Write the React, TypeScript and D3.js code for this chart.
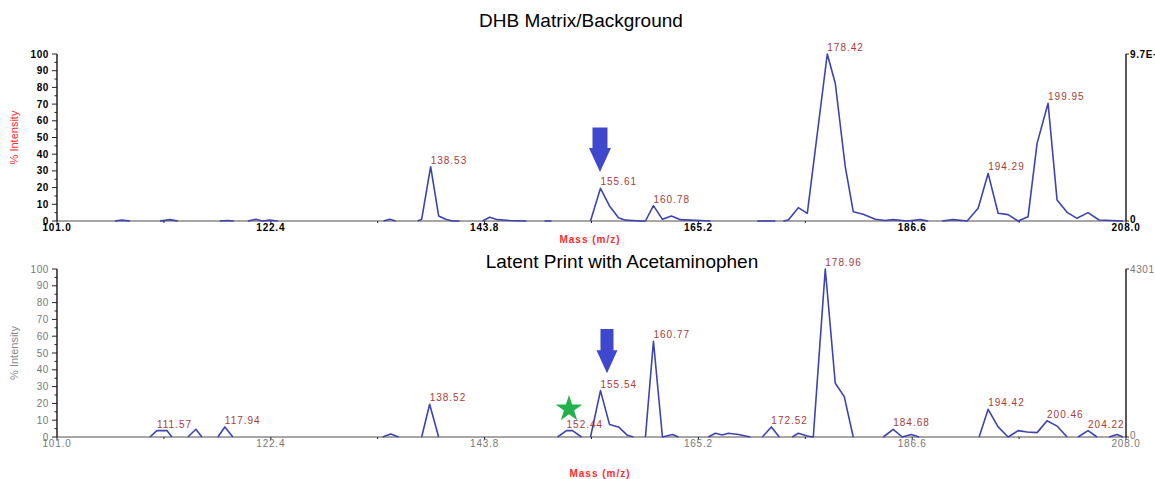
import React from "react";
import * as d3 from "d3";

// spectrum points are [m/z, % intensity]; null breaks the trace
type Pt = [number, number] | null;
interface Peak {
  label: string;
  mz: number;
  intensity: number;
}

const X_MIN = 101.0;
const X_MAX = 208.0;
const xTickValues = [101.0, 122.4, 143.8, 165.2, 186.6, 208.0];
const yTickValues = [0, 10, 20, 30, 40, 50, 60, 70, 80, 90, 100];

const dhbSpectrum: Pt[] = [
  [106.8, 0], [107.5, 0.5], [108.3, 0], null,
  [111.3, 0], [112.3, 0.8], [113.1, 0], null,
  [117.3, 0], [118.1, 0.3], [118.7, 0], null,
  [120.1, 0], [120.9, 1], [121.6, 0], [122.3, 0.5], [123.1, 0], null,
  [133.7, 0], [134.3, 1], [134.9, 0], null,
  [137.1, 0], [137.5, 1], [138.4, 32.5], [139.2, 3], [139.9, 1], [140.6, 0], [141.3, 0], null,
  [143.6, 0], [144.3, 2.2], [145.1, 0.8], [146.3, 0.3], [148.0, 0], null,
  [149.8, 0], [150.5, 0], null,
  [154.4, 0], [155.4, 19.6], [156.3, 9], [157.2, 2], [157.9, 0.5], [159.4, 0],
  [159.9, 0], [160.7, 9.2], [161.6, 1], [162.5, 3], [163.4, 0.8], [164.4, 0.5], [165.4, 0.3], [166.4, 0], null,
  [171.1, 0], [172.9, 0], null,
  [173.7, 0], [174.2, 0.6], [175.2, 8], [176.1, 4.6], [178.1, 100], [178.9, 82.5], [179.9, 32.5],
  [180.7, 5.6], [181.7, 4], [182.9, 1], [183.9, 0.3], [184.7, 0.8], [186.1, 0], [187.4, 0.8], [188.2, 0], null,
  [189.6, 0], [190.7, 0.8], [192.1, 0], [193.2, 7.6], [194.2, 28.5], [195.2, 4.6], [196.2, 3.8], [197.2, 0],
  [198.2, 2.6], [199.1, 46.5], [200.2, 70.5], [201.1, 12.6], [202.1, 5.2], [203.1, 1.6], [204.2, 5],
  [205.3, 0.6], [207.7, 0],
];

const dhbPeaks: Peak[] = [
  { label: "138.53", mz: 138.4, intensity: 32.5 },
  { label: "155.61", mz: 155.4, intensity: 19.6 },
  { label: "160.78", mz: 160.7, intensity: 9.2 },
  { label: "178.42", mz: 178.1, intensity: 100 },
  { label: "194.29", mz: 194.2, intensity: 28.5 },
  { label: "199.95", mz: 200.2, intensity: 70.5 },
];

const printSpectrum: Pt[] = [
  [110.3, 0], [111.0, 3.8], [112.0, 3.8], [112.5, 0], null,
  [114.1, 0], [114.9, 4.6], [115.5, 0], null,
  [117.1, 0], [117.8, 6], [118.6, 0], null,
  [133.6, 0], [134.4, 1.8], [135.2, 0], null,
  [137.5, 0], [138.3, 19.5], [139.2, 0], null,
  [151.1, 0], [152.0, 3.8], [152.6, 3.8], [153.5, 0], null,
  [154.4, 0], [155.4, 27.6], [156.3, 7.5], [157.2, 6], [158.1, 1], [158.7, 0], null,
  [159.9, 0], [160.7, 57], [161.6, 0], [162.6, 1.5], [163.2, 0], null,
  [166.2, 0], [166.9, 2.2], [167.6, 1.2], [168.2, 2.2], [169.2, 1.5], [170.4, 0], null,
  [171.6, 0], [172.5, 6], [173.3, 0], null,
  [174.6, 0], [175.2, 2.2], [176.1, 0.6], [176.7, 0], [177.9, 100], [178.9, 32], [179.8, 24], [180.7, 0], null,
  [183.7, 0], [184.7, 4.6], [185.6, 0], [186.5, 1.5], [187.3, 0], null,
  [193.3, 0], [194.2, 16.5], [195.2, 6], [196.2, 0], [197.2, 3.8], [198.1, 3], [199.1, 2.6],
  [200.1, 9.7], [201.1, 6.5], [202.1, 0], null,
  [203.2, 0], [204.2, 3.8], [205.1, 0], null,
  [206.3, 0], [207.1, 1.5], [207.7, 0],
];

const printPeaks: Peak[] = [
  { label: "111.57", mz: 111.0, intensity: 3.8 },
  { label: "117.94", mz: 117.8, intensity: 6 },
  { label: "138.52", mz: 138.3, intensity: 19.5 },
  { label: "152.44", mz: 152.0, intensity: 3.8 },
  { label: "155.54", mz: 155.4, intensity: 27.6 },
  { label: "160.77", mz: 160.7, intensity: 57 },
  { label: "172.52", mz: 172.5, intensity: 6 },
  { label: "178.96", mz: 177.9, intensity: 100 },
  { label: "184.68", mz: 184.7, intensity: 4.6 },
  { label: "194.42", mz: 194.2, intensity: 16.5 },
  { label: "200.46", mz: 200.1, intensity: 9.7 },
  { label: "204.22", mz: 204.2, intensity: 3.8 },
];

const FONT = "'Liberation Sans', Arial, sans-serif";
const NARROW = "'Liberation Sans Narrow', 'Liberation Sans', Arial, sans-serif";
const LINE_COLOR = "#3d43b0";
const PEAK_COLOR = "#a83a3a";
const ARROW_COLOR = "#3f48cc";
const LEFT = 57;
const RIGHT = 1126;

interface PanelProps {
  title: string;
  titleX: number;
  titleY: number;
  top: number;
  base: number;
  spectrum: Pt[];
  peaks: Peak[];
  textColor: string;
  bold: boolean;
  intensityColor: string;
  rightLabel: string;
  massY: number;
  massX: number;
  arrow: { mz: number; tip: number; tail: number; shaft: number; head: number; headLen: number };
  star?: { mz: number; intensity: number };
}

function Panel(p: PanelProps) {
  const x = d3.scaleLinear().domain([X_MIN, X_MAX]).range([LEFT, RIGHT]);
  const y = d3.scaleLinear().domain([0, 100]).range([p.base, p.top]);
  const line = d3
    .line<Pt>()
    .defined((d) => d !== null)
    .x((d) => x(d![0]))
    .y((d) => y(d![1]));
  const minorX = d3.pairs(xTickValues).map(([a, b]) => (a + b) / 2);
  const minorY = d3.pairs(yTickValues).map(([a, b]) => (a + b) / 2);
  const weight = p.bold ? 700 : 400;

  // arrow pointing down at a peak
  const ax = x(p.arrow.mz);
  const tipY = y(p.arrow.tip);
  const tailY = y(p.arrow.tail);
  const neckY = tipY - p.arrow.headLen;
  const sw = p.arrow.shaft / 2;
  const hw = p.arrow.head / 2;
  const arrowPath = `M${ax - sw},${tailY}L${ax + sw},${tailY}L${ax + sw},${neckY}L${ax + hw},${neckY}L${ax},${tipY}L${ax - hw},${neckY}L${ax - sw},${neckY}Z`;

  return (
    <g>
      <text x={p.titleX} y={p.titleY} textAnchor="middle" fontFamily={FONT} fontSize={19} fill="#000">
        {p.title}
      </text>

      {/* baseline */}
      <line x1={LEFT} x2={RIGHT} y1={p.base} y2={p.base} stroke="#8a8a8a" strokeWidth={1.5} />

      {/* left axis */}
      <line x1={LEFT} x2={LEFT} y1={p.top} y2={p.base} stroke="#222" strokeWidth={1.5} />
      {yTickValues.map((t) => (
        <g key={t}>
          <line x1={LEFT - 5} x2={LEFT} y1={y(t)} y2={y(t)} stroke="#222" />
          <text
            x={LEFT - 8}
            y={y(t)}
            dy="0.35em"
            textAnchor="end"
            fontFamily={FONT}
            fontSize={10}
            fontWeight={weight}
            letterSpacing={0.6}
            fill={p.textColor}
          >
            {t}
          </text>
        </g>
      ))}
      {minorY.map((t) => (
        <line key={t} x1={LEFT - 2.5} x2={LEFT} y1={y(t)} y2={y(t)} stroke="#222" />
      ))}
      <text
        transform={`translate(${18},${(p.top + p.base) / 2}) rotate(-90)`}
        textAnchor="middle"
        fontFamily={NARROW}
        fontSize={11}
        fill={p.intensityColor}
      >
        % Intensity
      </text>

      {/* right axis */}
      <line x1={RIGHT} x2={RIGHT} y1={p.top} y2={p.base} stroke="#222" strokeWidth={1.5} />
      <line x1={RIGHT} x2={RIGHT + 3} y1={p.top} y2={p.top} stroke="#222" />
      <line x1={RIGHT} x2={RIGHT + 3} y1={p.base} y2={p.base} stroke="#222" />
      <text x={RIGHT + 4} y={p.top} dy="0.35em" fontFamily={FONT} fontSize={10} fontWeight={weight} letterSpacing={0.6} fill={p.textColor}>
        {p.rightLabel}
      </text>
      <text x={RIGHT + 4} y={p.base - 2} dy="0.35em" fontFamily={FONT} fontSize={10} fontWeight={weight} fill={p.textColor}>
        0
      </text>

      {/* x ticks */}
      {xTickValues.map((t) => (
        <g key={t}>
          <line x1={x(t)} x2={x(t)} y1={p.base} y2={p.base + 3} stroke="#222" />
          <text
            x={x(t)}
            y={p.base + 10}
            textAnchor="middle"
            fontFamily={FONT}
            fontSize={10}
            fontWeight={weight}
            letterSpacing={0.8}
            fill={p.textColor}
          >
            {t.toFixed(1)}
          </text>
        </g>
      ))}
      {minorX.map((t) => (
        <line key={t} x1={x(t)} x2={x(t)} y1={p.base} y2={p.base + 2} stroke="#222" />
      ))}
      <text
        x={p.massX}
        y={p.massY}
        textAnchor="middle"
        fontFamily={FONT}
        fontSize={10}
        fontWeight={700}
        letterSpacing={1}
        fill="#ff2a2a"
      >
        Mass (m/z)
      </text>

      {/* spectrum */}
      <path d={line(p.spectrum) ?? ""} fill="none" stroke={LINE_COLOR} strokeWidth={1.6} strokeLinejoin="round" />

      {p.peaks.map((pk) => (
        <text
          key={pk.label}
          x={x(pk.mz)}
          y={y(pk.intensity) - 3}
          fontFamily={FONT}
          fontSize={10}
          letterSpacing={1}
          fill={PEAK_COLOR}
        >
          {pk.label}
        </text>
      ))}

      <path d={arrowPath} fill={ARROW_COLOR} />
      {p.star && (
        <path
          transform={`translate(${x(p.star.mz)},${y(p.star.intensity)})`}
          d={d3.symbol(d3.symbolStar, 220)() ?? ""}
          fill="#22b14c"
        />
      )}
    </g>
  );
}

export default function App() {
  return (
    <svg width={1155} height={479} style={{ position: "absolute", left: 0, top: 0, background: "#fff" }}>
      <Panel
        title="DHB Matrix/Background"
        titleX={581}
        titleY={27}
        top={54}
        base={221}
        spectrum={dhbSpectrum}
        peaks={dhbPeaks}
        textColor="#000"
        bold={true}
        intensityColor="#ff2a2a"
        rightLabel="9.7E+3"
        massX={590}
        massY={243}
        arrow={{ mz: 155.35, tip: 29.3, tail: 56, shaft: 15, head: 22, headLen: 24 }}
      />
      <Panel
        title="Latent Print with Acetaminophen"
        titleX={622}
        titleY={268}
        top={269}
        base={437}
        spectrum={printSpectrum}
        peaks={printPeaks}
        textColor="#777"
        bold={false}
        intensityColor="#8a8a8a"
        rightLabel="4301"
        massX={600}
        massY={477}
        arrow={{ mz: 156.05, tip: 38, tail: 64.3, shaft: 13, head: 21, headLen: 23 }}
        star={{ mz: 152.25, intensity: 16.7 }}
      />
    </svg>
  );
}
